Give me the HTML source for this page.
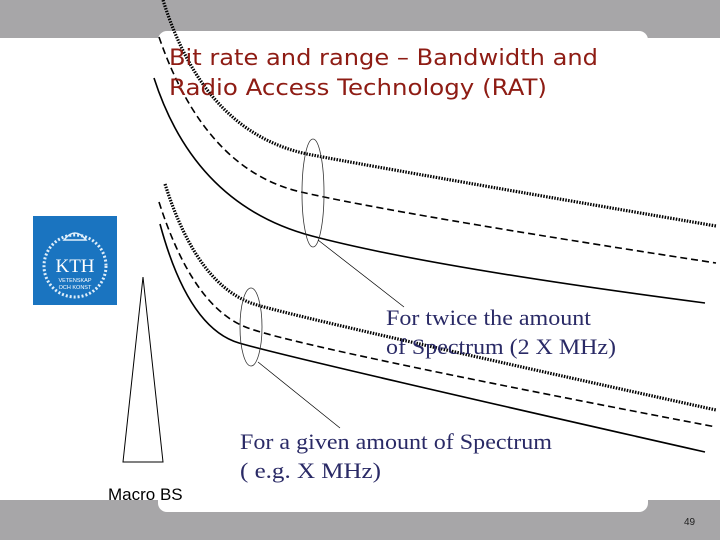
<!DOCTYPE html>
<html><head><meta charset="utf-8"><style>
html,body{margin:0;padding:0;width:720px;height:540px;overflow:hidden;background:#fff}
svg{display:block}
</style></head><body>
<svg width="720" height="540" viewBox="0 0 720 540" xmlns="http://www.w3.org/2000/svg">
  <rect x="0" y="0" width="720" height="38" fill="#a7a6a8"/>
  <rect x="158" y="31" width="490" height="30" rx="9" fill="#fff"/>
  <rect x="0" y="500" width="720" height="40" fill="#a7a6a8"/>
  <rect x="158" y="480" width="490" height="32" rx="9" fill="#fff"/>
  <text x="684" y="525" font-family="Liberation Sans, sans-serif" font-size="10" fill="#222">49</text>

  <g fill="none" stroke="#000">
    <path d="M163,0 Q205,135 312,155 T716,226" stroke-width="3.2" stroke-dasharray="1.5,1.3"/>
    <path d="M159,37 Q205,170 301,192 T716,263" stroke-width="1.6" stroke-dasharray="7,4"/>
    <path d="M154,78 Q195,205 312,236 T705,303" stroke-width="1.6"/>
  </g>
  <g fill="none" stroke="#000">
    <path d="M165,184 Q198,288 257,305 T716,410" stroke-width="3.2" stroke-dasharray="1.5,1.3"/>
    <path d="M159,202 Q193,308 248,328 T716,427" stroke-width="1.6" stroke-dasharray="7,4"/>
    <path d="M160,224 Q188,328 239,343 T705,452" stroke-width="1.6"/>
  </g>

  <ellipse cx="313" cy="193" rx="11" ry="54" fill="none" stroke="#333" stroke-width="0.8"/>
  <ellipse cx="251" cy="327" rx="11" ry="39" fill="none" stroke="#333" stroke-width="0.8"/>
  <line x1="318" y1="240" x2="404" y2="307" stroke="#000" stroke-width="0.7"/>
  <line x1="258" y1="362" x2="340" y2="428" stroke="#000" stroke-width="0.7"/>

  <text font-family="DejaVu Sans, Liberation Sans, sans-serif" font-size="22" fill="#8e1c14">
    <tspan x="169" y="65" textLength="429" lengthAdjust="spacingAndGlyphs">Bit rate and range – Bandwidth and</tspan>
    <tspan x="169" y="95" textLength="378" lengthAdjust="spacingAndGlyphs">Radio Access Technology (RAT)</tspan>
  </text>

  <text font-family="Liberation Serif, serif" font-size="22" fill="#2a2a66">
    <tspan x="386" y="325" textLength="205" lengthAdjust="spacingAndGlyphs">For twice the amount</tspan>
    <tspan x="386" y="354" textLength="230" lengthAdjust="spacingAndGlyphs">of Spectrum (2 X MHz)</tspan>
  </text>
  <text font-family="Liberation Serif, serif" font-size="22" fill="#2a2a66">
    <tspan x="240" y="449" textLength="312" lengthAdjust="spacingAndGlyphs">For a given amount of Spectrum</tspan>
    <tspan x="240" y="478" textLength="141" lengthAdjust="spacingAndGlyphs"> ( e.g. X MHz)</tspan>
  </text>

  <polygon points="143,277 123,462 163,462" fill="none" stroke="#000" stroke-width="1"/>
  <text x="108" y="500" font-family="Liberation Sans, sans-serif" font-size="17" fill="#000">Macro BS</text>

  <g>
    <rect x="33" y="216" width="84" height="89" fill="#1a74c0"/>
    <circle cx="75" cy="266" r="31" fill="none" stroke="#dfeefa" stroke-width="3" stroke-dasharray="2,2"/>
    <path d="M64,240 Q75,226 86,240 Z" fill="none" stroke="#dfeefa" stroke-width="1.5"/>
    <text x="75" y="272" text-anchor="middle" font-family="Liberation Serif, serif" font-size="19" fill="#fff">KTH</text>
    <text x="75" y="282" text-anchor="middle" font-family="Liberation Sans, sans-serif" font-size="5.5" fill="#fff">VETENSKAP</text>
    <text x="75" y="289" text-anchor="middle" font-family="Liberation Sans, sans-serif" font-size="5.5" fill="#fff">OCH KONST</text>
  </g>
</svg>
</body></html>
